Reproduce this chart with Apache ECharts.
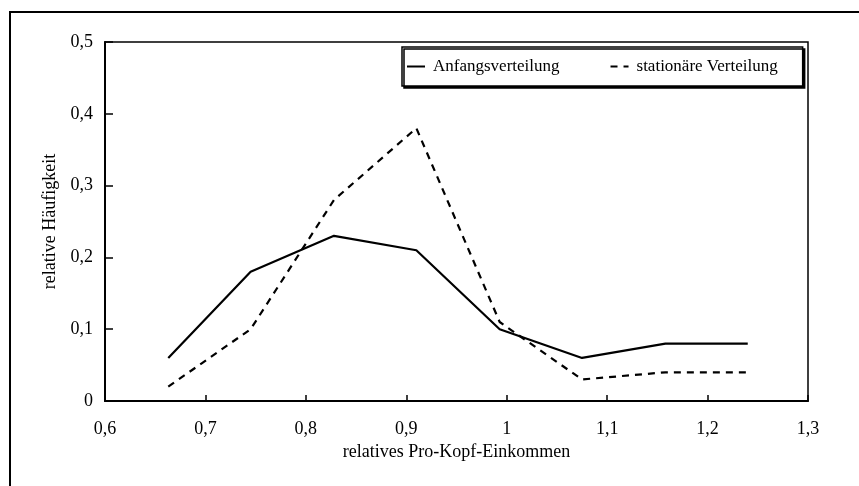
<!DOCTYPE html>
<html>
<head>
<meta charset="utf-8" />
<title>relative Häufigkeit</title>
<script src="https://cdn.jsdelivr.net/npm/echarts@6/dist/echarts.min.js"></script>
<style>
  html, body { margin: 0; padding: 0; background: #fff; }
  #main { width: 859px; height: 486px; }
</style>
</head>
<body>
<div id="main"></div>
<script>
// Einkommensklassen (relatives Pro-Kopf-Einkommen)
var einkommen = [0.663, 0.745, 0.828, 0.91, 0.993, 1.075, 1.158, 1.24];
var anfang = [0.06, 0.18, 0.23, 0.21, 0.10, 0.06, 0.08, 0.08];
var stationaer = [0.02, 0.10, 0.28, 0.38, 0.11, 0.03, 0.04, 0.04];
var serienNamen = ['Anfangsverteilung', 'stationäre Verteilung'];

function paare(xs, ys) {
  return xs.map(function (x, i) { return [x, ys[i]]; });
}
function komma(v) {
  return String(Math.round(v * 10) / 10).replace('.', ',');
}

var chart = echarts.init(document.getElementById('main'));
var schrift = 'Liberation Serif';

chart.setOption({
  animation: false,
  textStyle: { fontFamily: schrift, color: '#000' },
  graphic: [{
    type: 'polyline',
    shape: { points: [[10, 486], [10, 12], [859, 12]] },
    style: { stroke: '#000', lineWidth: 2, fill: null }
  }],
  grid: {
    left: 105, right: 51, top: 42, bottom: 85,
    show: true, borderColor: '#000', borderWidth: 1.5
  },
  legend: {
    data: serienNamen,
    left: 402, top: 47,
    padding: [11, 25, 11, 4],
    itemWidth: 18, itemHeight: 10, itemGap: 50,
    borderColor: '#000', borderWidth: 1.5,
    backgroundColor: '#fff',
    shadowColor: '#000', shadowOffsetX: 2, shadowOffsetY: 2, shadowBlur: 0,
    itemStyle: { opacity: 0 },
    textStyle: { fontFamily: schrift, fontSize: 17, color: '#000', padding: [0, 0, 0, 3] }
  },
  xAxis: {
    type: 'value', min: 0.6, max: 1.3, interval: 0.1,
    name: 'relatives Pro-Kopf-Einkommen',
    nameLocation: 'middle', nameGap: 34,
    nameTextStyle: { fontFamily: schrift, fontSize: 18, color: '#000' },
    axisLine: { lineStyle: { color: '#000', width: 2 } },
    axisTick: { inside: true, length: 6, lineStyle: { color: '#000', width: 1.5 } },
    axisLabel: { formatter: komma, fontFamily: schrift, fontSize: 18, color: '#000', margin: 19 },
    splitLine: { show: false }
  },
  yAxis: {
    type: 'value', min: 0, max: 0.5, interval: 0.1,
    name: 'relative Häufigkeit',
    nameLocation: 'middle', nameGap: 45,
    nameTextStyle: { fontFamily: schrift, fontSize: 18, color: '#000' },
    axisLine: { show: true, lineStyle: { color: '#000', width: 2 } },
    axisTick: { show: true, inside: true, length: 8, lineStyle: { color: '#000', width: 1.5 } },
    axisLabel: { formatter: komma, fontFamily: schrift, fontSize: 18, color: '#000', margin: 12 },
    splitLine: { show: false }
  },
  series: [{
    name: serienNamen[0],
    type: 'line',
    data: paare(einkommen, anfang),
    symbol: 'none',
    itemStyle: { color: '#000' },
    lineStyle: { color: '#000', width: 2.2 }
  }, {
    name: serienNamen[1],
    type: 'line',
    data: paare(einkommen, stationaer),
    symbol: 'none',
    itemStyle: { color: '#000' },
    lineStyle: { color: '#000', width: 2.2, type: [7, 6] }
  }]
});
</script>
</body>
</html>
